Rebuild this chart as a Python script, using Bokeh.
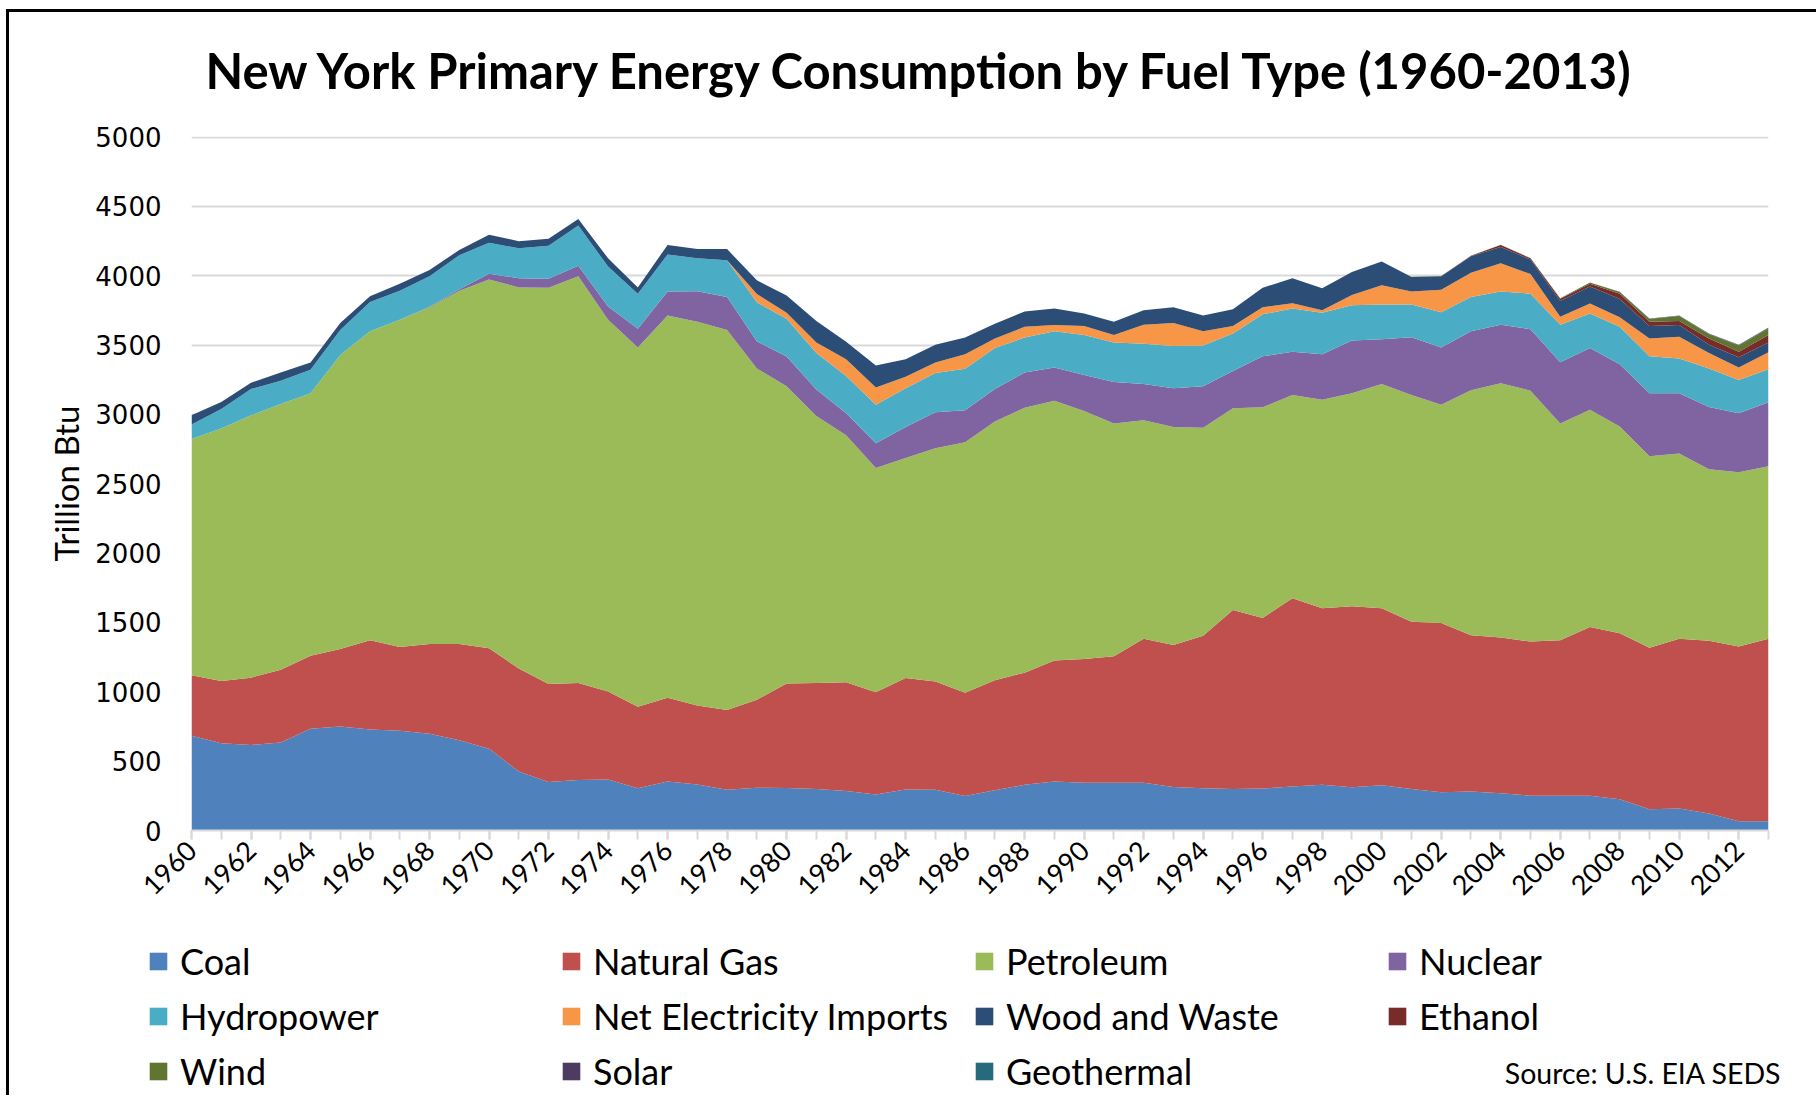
import math
from bokeh.plotting import figure
from bokeh.layouts import column
from bokeh.models import (ColumnDataSource, Range1d, FixedTicker, Legend, LegendItem,
                          Label, SingleIntervalTicker)
from bokeh.embed import file_html
from bokeh.resources import INLINE

# ---------------- data (trillion Btu) ----------------
years = list(range(1960, 2014))
tick_years = years[::2]

coal = [683, 629, 617, 635, 734, 749, 728, 719, 698, 650,
        590, 425, 350, 365, 368, 305, 353, 332, 293, 308,
        306, 299, 284, 260, 296, 293, 248, 290, 329, 353,
        344, 344, 344, 314, 305, 299, 302, 317, 329, 311,
        326, 299, 275, 281, 269, 251, 251, 251, 225, 153,
        159, 123, 66, 66]
natural_gas = [437, 449, 485, 524, 526, 559, 643, 604, 646, 694,
               724, 743, 707, 698, 635, 587, 605, 569, 575, 635,
               754, 764, 785, 737, 803, 782, 746, 794, 809, 872,
               892, 913, 1039, 1024, 1099, 1291, 1231, 1357, 1273, 1306,
               1276, 1207, 1222, 1126, 1123, 1111, 1120, 1216, 1197, 1164,
               1224, 1245, 1260, 1317]
petroleum = [1703, 1820, 1892, 1916, 1893, 2120, 2228, 2360, 2428, 2548,
             2659, 2748, 2856, 2934, 2680, 2590, 2755, 2767, 2740, 2389,
             2144, 1925, 1781, 1617, 1587, 1682, 1805, 1865, 1910, 1874,
             1788, 1677, 1575, 1572, 1500, 1455, 1518, 1467, 1503, 1536,
             1617, 1635, 1572, 1767, 1833, 1809, 1563, 1566, 1491, 1381,
             1336, 1237, 1258, 1243]
nuclear = [0, 0, 0, 0, 0, 0, 0, 0, 5, 10,
           42, 66, 66, 75, 95, 135, 173, 221, 239, 195,
           214, 192, 159, 179, 224, 258, 231, 234, 254, 239,
           260, 300, 261, 279, 300, 269, 368, 311, 329, 380,
           323, 416, 413, 425, 422, 443, 443, 446, 449, 455,
           434, 449, 425, 461]
hydropower = [105, 141, 189, 168, 170, 180, 212, 209, 220, 245,
              222, 216, 237, 290, 288, 254, 267, 237, 264, 281,
              272, 263, 269, 276, 279, 284, 299, 296, 252, 261,
              288, 284, 290, 305, 293, 270, 303, 311, 300, 254,
              251, 236, 255, 248, 239, 257, 270, 249, 270, 266,
              251, 278, 240, 239]
net_imports = [0, 0, 0, 0, 0, 0, 0, 0, 0, 0,
               0, 0, 0, 0, 0, 0, 0, 0, 0, 60,
               44, 75, 120, 126, 83, 75, 105, 69, 78, 45,
               66, 54, 138, 165, 102, 54, 51, 39, 18, 75,
               139, 94, 162, 174, 204, 141, 57, 72, 69, 129,
               156, 111, 89, 123]
wood_waste = [66, 51, 45, 59, 51, 51, 42, 51, 45, 39,
              59, 51, 51, 48, 60, 45, 69, 66, 81, 99,
              124, 156, 126, 158, 126, 129, 120, 105, 111, 120,
              90, 96, 105, 114, 114, 120, 140, 180, 158, 165,
              170, 104, 98, 120, 117, 105, 113, 122, 131, 90,
              84, 60, 75, 69]
ethanol = [0] * 43 + [3, 15, 9, 18, 21, 39, 30, 30, 45, 39, 54]
wind = [0] * 40 + [1, 1, 1, 1, 1, 2, 3, 9, 12, 21, 36, 30, 45, 48]
solar = [0] * 48 + [1, 1, 2, 3, 4, 5]
geothermal = [0] * 48 + [1, 1, 1, 2, 2, 2]

series_names = ["Coal", "Natural Gas", "Petroleum", "Nuclear",
                "Hydropower", "Net Electricity Imports", "Wood and Waste", "Ethanol",
                "Wind", "Solar", "Geothermal"]
series_keys = ["coal", "natural_gas", "petroleum", "nuclear", "hydropower",
               "net_imports", "wood_waste", "ethanol", "wind", "solar", "geothermal"]
series_colors = ["#4F81BD", "#C0504D", "#9BBB59", "#8064A2", "#4BACC6", "#F79646",
                 "#2C4D75", "#772C2A", "#5F7530", "#4D3B62", "#276A7C"]

source = ColumnDataSource(dict(year=years, coal=coal, natural_gas=natural_gas,
                               petroleum=petroleum, nuclear=nuclear, hydropower=hydropower,
                               net_imports=net_imports, wood_waste=wood_waste,
                               ethanol=ethanol, wind=wind, solar=solar, geothermal=geothermal))

W = 1807
TITLE = "New York Primary Energy Consumption by Fuel Type (1960-2013)"


def strip(height):
    f = figure(width=W, height=height, output_backend="svg", toolbar_location=None,
               x_range=Range1d(0, W), y_range=Range1d(0, height),
               x_axis_type=None, y_axis_type=None,
               min_border_left=0, min_border_right=0, min_border_top=0, min_border_bottom=0)
    f.frame_align = False
    f.outline_line_color = None
    f.background_fill_color = "white"
    f.border_fill_color = "white"
    return f


# ---------------- title strip ----------------
head = strip(100)
head.add_layout(Label(x=196, y=43, text=TITLE, text_align="left", text_baseline="middle",
                      text_font="Lato", text_font_style="bold", text_font_size="49px",
                      text_color="black"))

# ---------------- main chart ----------------
p = figure(width=W, height=818, output_backend="svg", toolbar_location=None,
           x_range=Range1d(1960, 2013), y_range=Range1d(0, 5004),
           min_border_left=182, min_border_right=48, min_border_top=24,
           min_border_bottom=100)
p.frame_align = False
p.outline_line_color = None
p.background_fill_color = "white"
p.border_fill_color = "white"

p.varea_stack(stackers=series_keys, x="year", color=series_colors, source=source)

# y axis
p.yaxis.ticker = SingleIntervalTicker(interval=500, num_minor_ticks=0)
p.yaxis.axis_line_color = None
p.yaxis.major_tick_line_color = None
p.yaxis.minor_tick_line_color = None
p.yaxis.major_tick_out = 0
p.yaxis.major_tick_in = 0
p.yaxis.major_label_text_font = "DejaVu Sans"
p.yaxis.major_label_text_font_size = "26px"
p.yaxis.major_label_text_color = "black"
p.yaxis.major_label_standoff = 30
p.yaxis.axis_label = "Trillion Btu"
p.yaxis.axis_label_text_font = "Lato"
p.yaxis.axis_label_text_font_style = "normal"
p.yaxis.axis_label_text_font_size = "33px"
p.yaxis.axis_label_text_color = "black"
p.yaxis.axis_label_standoff = 6

# x axis
p.xaxis.ticker = FixedTicker(ticks=tick_years, minor_ticks=years)
p.xaxis.major_label_orientation = math.pi / 4
p.xaxis.axis_line_color = "#D9D9D9"
p.xaxis.axis_line_width = 2
p.xaxis.major_tick_line_color = "#D9D9D9"
p.xaxis.minor_tick_line_color = "#D9D9D9"
p.xaxis.major_tick_line_width = 2
p.xaxis.minor_tick_line_width = 2
p.xaxis.major_tick_in = 0
p.xaxis.major_tick_out = 9
p.xaxis.minor_tick_in = 0
p.xaxis.minor_tick_out = 9
p.xaxis.major_label_text_font = "Lato"
p.xaxis.major_label_text_font_size = "27px"
p.xaxis.major_label_text_color = "black"
p.xaxis.major_label_standoff = 6

# grid
p.xgrid.grid_line_color = None
p.ygrid.ticker = SingleIntervalTicker(interval=500, num_minor_ticks=0)
p.ygrid.grid_line_color = "#D9D9D9"
p.ygrid.grid_line_width = 2

# ---------------- legend strip ----------------
leg = strip(165)
leg.extra_x_ranges = {"hidden": Range1d(0, 1)}
leg_renderers = leg.varea_stack(stackers=series_keys, x="year", color=series_colors,
                                source=source, x_range_name="hidden")

items = [LegendItem(label=n, renderers=[r]) for n, r in zip(series_names, leg_renderers)]
legend = Legend(items=items, orientation="horizontal", ncols=4, location=(138, 2),
                glyph_width=22, glyph_height=22, label_standoff=11, spacing=11,
                padding=0, margin=0, label_width=369, label_height=44,
                label_text_font="Lato", label_text_font_size="36px", label_text_color="black",
                border_line_color=None, background_fill_alpha=0)
leg.add_layout(legend, "center")

leg.add_layout(Label(x=1772, y=23, text="Source: U.S. EIA SEDS", text_align="right",
                     text_baseline="middle", text_font="Lato", text_font_size="28.5px",
                     text_color="black"))

layout = column(head, p, leg, spacing=0,
                styles={"margin-left": "9px", "margin-top": "12px",
                        "box-shadow": "-3px 0 0 0 black, 0 -3px 0 0 black, -3px -3px 0 0 black"})

open("out.html", "w").write(file_html(layout, INLINE))
